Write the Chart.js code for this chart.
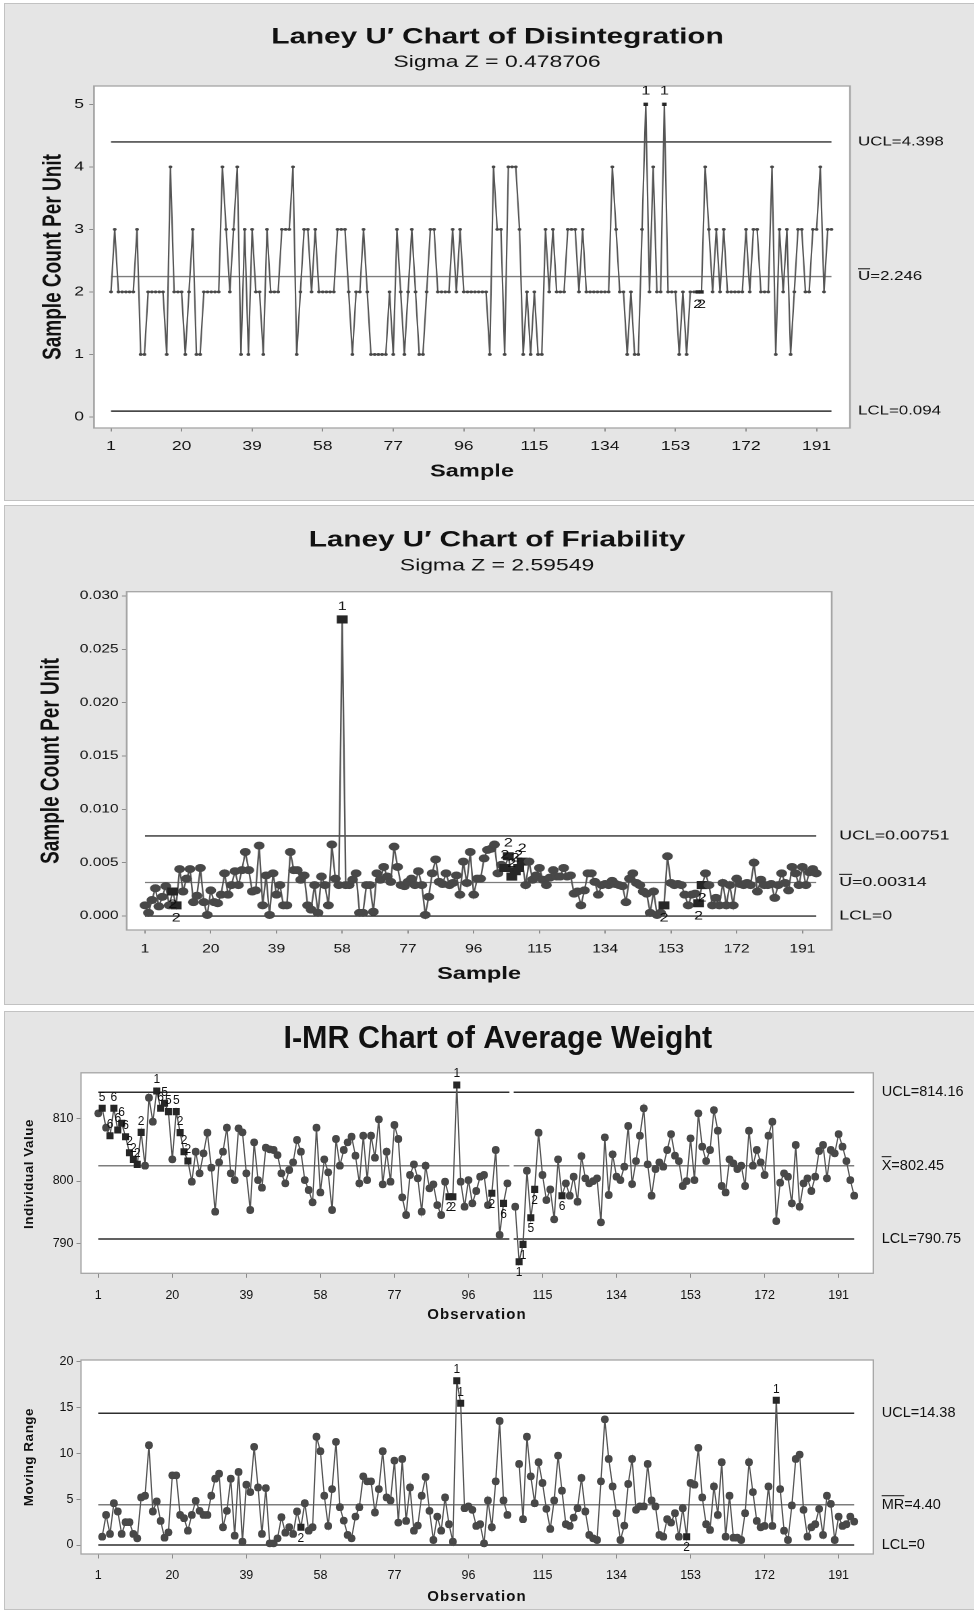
<!DOCTYPE html>
<html>
<head>
<meta charset="utf-8">
<title>Control charts</title>
<script src="https://cdn.jsdelivr.net/npm/chart.js@4.4.1/dist/chart.umd.min.js"></script>
<style>
  body { margin: 0; width: 974px; height: 1611px; position: relative; overflow: hidden; background: #fff; }
  .panel { position: absolute; left: 4px; width: 975px; background: #e5e5e5; border: 1px solid #c2c2c2; box-sizing: border-box; }
  .wrap { position: absolute; left: 0; }
  .stretch { transform-origin: 0 0; transform: scaleX(1.34903); }
</style>
</head>
<body>
<div class="panel" style="top:3px;height:498px"></div>
<div class="panel" style="top:505px;height:500px"></div>
<div class="panel" style="top:1011px;height:599px"></div>
<div class="wrap stretch" style="top:0;width:722px;height:502px"><canvas id="c1"></canvas></div>
<div class="wrap stretch" style="top:505px;width:722px;height:500px"><canvas id="c2"></canvas></div>
<div class="wrap" style="top:1011px;width:974px;height:319px"><canvas id="c3"></canvas></div>
<div class="wrap" style="top:1330px;width:974px;height:280px"><canvas id="c4"></canvas></div>

<script>
const FONT = '"Liberation Sans", Arial, Helvetica, sans-serif';
const S = 974 / 722; // the two Laney panels are drawn narrow and stretched

// ---- data ----
const sampleTicks = [1, 20, 39, 58, 77, 96, 115, 134, 153, 172, 191];

const disintegration = [
  2,3,2,2,2,2,2,3,1,1, 2,2,2,2,2,1,4,2,2,2, 1,2,3,1,1,2,2,2,2,2,
  4,3,2,3,4,1,3,1,3,2, 2,1,3,2,2,2,3,3,3,4, 1,2,3,3,2,3,2,2,2,2,
  2,3,3,3,2,1,2,2,3,2, 1,1,1,1,1,2,1,3,2,1, 2,3,2,1,1,2,3,3,2,2,
  2,2,3,2,3,2,2,2,2,2, 2,2,1,4,3,3,1,4,4,4, 3,1,2,1,2,1,1,3,2,3,
  2,2,2,3,3,3,2,3,2,2, 2,2,2,2,2,4,3,2,2,1, 2,1,1,3,5,2,4,2,2,5,
  2,2,2,1,2,1,2,2,2,2, 4,3,2,3,2,3,2,2,2,2, 2,3,2,3,3,2,2,2,4,1,
  3,2,3,1,2,3,3,2,2,3, 3,4,2,3,3
];
const disLimits = [4.398, 2.246, 0.094];
const disLimitText = ['UCL=4.398', 'U=2.246', 'LCL=0.094'];
const disFlags = [[145, '1'], [150, '1'], [159, '2'], [160, '2']];
const disYTicks = [0, 1, 2, 3, 4, 5];

const friability = [
  0.0010,0.0003,0.0015,0.0026,0.0009,0.0018,0.0028,0.0010,0.0023,0.0010,
  0.0044,0.0023,0.0035,0.0044,0.0013,0.0019,0.0045,0.0013,0.0001,0.0024,
  0.0013,0.0012,0.0020,0.0040,0.0020,0.0029,0.0042,0.0029,0.0043,0.0060,
  0.0043,0.0023,0.0024,0.0066,0.0010,0.0038,0.0001,0.0040,0.0020,0.0029,
  0.0010,0.0010,0.0060,0.0043,0.0043,0.0034,0.0038,0.0010,0.0006,0.0029,
  0.0003,0.0037,0.0029,0.0010,0.0067,0.0035,0.0029,0.0278,0.0029,0.0029,
  0.0034,0.0040,0.0003,0.0003,0.0029,0.0029,0.0004,0.0040,0.0034,0.0046,
  0.0037,0.0032,0.0065,0.0046,0.0029,0.0028,0.0032,0.0035,0.0029,0.0042,
  0.0029,0.0001,0.0018,0.0040,0.0053,0.0032,0.0030,0.0040,0.0029,0.0031,
  0.0038,0.0020,0.0051,0.0031,0.0060,0.0020,0.0035,0.0035,0.0054,0.0062,
  0.0063,0.0067,0.0040,0.0048,0.0045,0.0056,0.0037,0.0042,0.0045,0.0051,
  0.0029,0.0051,0.0034,0.0038,0.0045,0.0034,0.0029,0.0036,0.0043,0.0037,
  0.0037,0.0045,0.0037,0.0038,0.0021,0.0023,0.0010,0.0024,0.0040,0.0040,
  0.0032,0.0020,0.0029,0.0030,0.0029,0.0033,0.0030,0.0029,0.0028,0.0013,
  0.0035,0.0040,0.0031,0.0029,0.0023,0.0021,0.0003,0.0023,0.0001,0.0003,
  0.0010,0.0056,0.0031,0.0029,0.0030,0.0029,0.0020,0.0010,0.0020,0.0021,
  0.0012,0.0029,0.0040,0.0029,0.0010,0.0017,0.0010,0.0031,0.0010,0.0029,
  0.0010,0.0035,0.0030,0.0029,0.0031,0.0029,0.0050,0.0023,0.0034,0.0029,
  0.0029,0.0030,0.0017,0.0029,0.0040,0.0031,0.0024,0.0046,0.0040,0.0029,
  0.0046,0.0029,0.0041,0.0044,0.0040
];
const friLimits = [0.00751, 0.00314, 0];
const friLimitText = ['UCL=0.00751', 'U=0.00314', 'LCL=0'];
const friFlags = [[9, '2'], [10, '2'], [58, '1'], [105, '2'], [106, '2'], [107, '2'], [108, '2'],
  [109, '2'], [110, '2'], [151, '2'], [161, '2'], [162, '2']];
const friYTicks = [0, 0.005, 0.010, 0.015, 0.020, 0.025, 0.030];

const avgWeight = [
  810.80,811.60,808.51,807.24,811.60,808.14,809.21,807.08,804.52,803.46,
  802.66,807.77,802.45,813.30,809.47,814.36,811.60,812.40,811.07,803.46,
  811.07,807.72,804.68,803.19,799.90,804.68,801.23,804.42,807.72,802.13,
  795.11,802.98,804.68,808.51,801.23,800.16,808.41,807.77,801.23,795.38,
  806.17,800.16,798.94,805.32,805.06,804.95,804.15,801.23,799.63,801.76,
  802.98,806.55,804.68,800.16,798.57,796.60,808.51,798.19,803.46,801.39,
  795.38,806.71,802.45,804.95,806.17,807.08,804.05,799.63,807.24,800.16,
  807.24,803.73,809.84,799.47,804.68,799.90,808.94,806.71,797.40,794.58,
  800.96,802.66,800.43,795.11,802.45,798.83,799.47,796.17,794.58,799.90,
  797.50,797.50,815.32,799.90,795.91,800.16,796.44,798.41,800.69,800.96,
  796.17,798.04,804.95,791.39,796.44,799.63,null,795.91,787.13,789.90,
  801.65,794.15,798.67,807.72,800.96,796.97,798.67,793.89,803.46,797.66,
  799.63,797.66,800.69,796.71,803.99,800.43,799.63,800.00,800.43,793.41,
  806.97,797.77,804.26,800.69,800.16,802.29,808.78,799.52,803.19,807.24,
  811.60,802.66,797.66,801.92,802.98,802.29,804.95,807.50,804.05,803.19,
  799.21,800.00,806.81,800.16,810.80,805.48,803.19,804.95,811.33,808.04,
  799.21,798.19,803.46,802.82,801.92,802.45,799.21,808.04,802.45,804.95,
  802.98,800.96,807.24,809.47,793.62,799.74,801.23,800.69,796.44,805.75,
  795.91,799.63,800.43,798.41,800.69,804.79,805.75,800.43,804.95,804.42,
  807.50,805.48,803.19,800.16,797.66
];
const wtLimits = [814.16, 802.45, 790.75];
const wtLimitText = ['UCL=814.16', 'X=802.45', 'LCL=790.75'];
const wtFlags = [[2, '5'], [4, '6'], [5, '6'], [6, '6'], [7, '6'], [8, '6'], [9, '2'], [10, '2'], [11, '2'],
  [12, '2'], [16, '1'], [17, '6'], [18, '5'], [19, '5'], [21, '5'], [22, '2'], [23, '2'], [24, '2'],
  [91, '2'], [92, '2'], [93, '1'], [102, '2'], [105, '6'], [109, '1'], [110, '1'], [112, '5'],
  [113, '2'], [120, '6']];
const wtYTicks = [790, 800, 810];

const movingRange = [
  null,0.91,3.29,1.21,4.57,3.66,1.21,2.49,2.49,1.21,
  0.73,5.20,5.38,10.90,3.66,4.76,2.63,0.80,1.39,7.61,
  7.61,3.29,2.93,1.57,3.29,4.83,3.73,3.29,3.29,5.38,
  7.24,7.79,1.94,3.73,7.24,1.02,7.98,0.37,6.59,5.78,
  10.72,6.29,1.21,6.22,0.18,0.18,0.73,3.04,1.35,1.94,
  1.21,3.66,1.94,4.57,1.57,1.94,11.82,10.25,5.38,2.09,
  6.11,11.27,4.13,2.67,1.10,0.73,3.11,4.13,7.50,6.95,
  6.95,3.55,6.11,10.25,5.20,4.87,9.22,2.45,9.40,2.63,
  6.29,1.57,2.12,5.38,7.43,3.73,0.55,3.11,1.57,5.20,
  2.27,0.37,17.93,15.48,4.02,4.21,3.84,2.09,2.27,0.18,
  4.87,1.94,6.95,13.54,4.87,3.29,null,null,8.85,2.82,
  11.82,7.50,4.57,9.04,6.77,3.95,1.76,4.87,9.77,5.93,
  2.27,2.09,3.00,4.02,7.32,3.66,1.10,0.73,0.55,6.95,
  13.72,9.40,6.40,3.48,0.55,2.12,6.66,9.40,3.84,4.21,
  4.21,8.85,4.87,4.21,1.10,0.91,2.82,2.45,3.48,0.91,
  4.02,0.91,6.77,6.59,10.61,5.20,2.27,1.65,6.40,3.29,
  9.04,0.91,5.38,0.80,0.80,0.55,3.48,9.04,5.78,2.63,
  1.94,2.09,6.40,2.09,15.81,6.11,1.57,0.55,4.32,9.40,
  9.88,3.84,0.91,1.94,2.27,3.95,1.10,5.38,4.50,0.55,
  3.11,2.09,2.27,3.11,2.56
];
const mrLimits = [14.38, 4.40, 0];
const mrLimitText = ['UCL=14.38', 'MR=4.40', 'LCL=0'];
const mrFlags = [[53, '2'], [93, '1'], [94, '1'], [152, '2'], [175, '1']];
const mrYTicks = [0, 5, 10, 15, 20];

// ---- drawing ----
const cfgs = {};

// white plot area, frame, limit labels, test numbers and titles
const minitabPlugin = {
  id: 'minitab',
  beforeDraw(chart) {
    const a = chart.chartArea, ctx = chart.ctx;
    ctx.save();
    ctx.fillStyle = '#ffffff';
    ctx.fillRect(a.left, a.top, a.right - a.left, a.bottom - a.top);
    ctx.restore();
  },
  afterDraw(chart) {
    const o = cfgs[chart.canvas.id];
    const a = chart.chartArea, ctx = chart.ctx;
    const xs = chart.scales.x, ys = chart.scales.y;
    ctx.save();
    ctx.strokeStyle = '#a5a5a5';
    ctx.lineWidth = 1.3;
    ctx.strokeRect(a.left, a.top, a.right - a.left, a.bottom - a.top);

    ctx.fillStyle = '#111';
    ctx.strokeStyle = '#111';
    ctx.textBaseline = 'middle';
    ctx.textAlign = 'left';
    ctx.font = o.limitFont + 'px ' + FONT;
    o.limitText.forEach((t, k) => {
      const x = a.right + o.limitGap / o.sx;
      const y = ys.getPixelForValue(o.limits[k]);
      ctx.fillText(t, x, y);
      const n = o.bars[k];
      if (n) {
        const w = ctx.measureText(t.slice(0, n)).width;
        const by = y - o.limitFont * 0.62;
        ctx.lineWidth = 1;
        ctx.beginPath();
        ctx.moveTo(x, by);
        ctx.lineTo(x + w, by);
        ctx.stroke();
      }
    });

    ctx.textAlign = 'center';
    ctx.font = o.flagFont + 'px ' + FONT;
    o.flags.forEach(f => {
      const v = o.values[f[0] - 1];
      const x = xs.getPixelForValue(f[0]);
      const y = ys.getPixelForValue(v);
      ctx.fillText(f[1], x, v >= o.limits[1] ? y - o.flagOff : y + o.flagOff);
    });

    o.texts.forEach(t => {
      ctx.save();
      ctx.font = (t.bold ? 'bold ' : '') + t.size + 'px ' + FONT;
      ctx.letterSpacing = (t.ls || 0) + 'px';
      ctx.translate(t.x / o.sx, t.y);
      if (t.rot) ctx.rotate(-Math.PI / 2);
      ctx.fillText(t.t, 0, 0);
      ctx.restore();
    });
    ctx.restore();
  }
};

function controlChart(id, o) {
  cfgs[id] = o;
  const W = 974 / o.sx;
  const flagOf = {};
  o.flags.forEach(f => { flagOf[f[0]] = f[1]; });
  const pts = o.values.map((v, i) => ({ x: i + 1, y: v }));
  const flagged = pts.map(p => flagOf[p.x] !== undefined);

  // limit lines, broken where an observation is missing
  const limitData = v => {
    const out = [];
    o.spans.forEach((s, k) => {
      if (k > 0) out.push({ x: (o.spans[k - 1][1] + s[0]) / 2, y: null });
      out.push({ x: s[0], y: v }, { x: s[1], y: v });
    });
    return out;
  };
  const limitSets = o.limits.map((v, k) => ({
    data: limitData(v),
    pointRadius: 0,
    borderColor: k === 1 ? '#7d7d7d' : '#2e2e2e',
    borderWidth: k === 1 ? o.clWidth : o.limWidth,
    tension: 0,
    spanGaps: false
  }));

  const tickGrid = { drawOnChartArea: false, drawTicks: true, tickLength: o.tickLen, tickColor: '#8c8c8c', tickWidth: 1 };

  new Chart(document.getElementById(id), {
    type: 'line',
    data: {
      datasets: [{
        data: pts,
        borderColor: '#555555',
        borderWidth: o.lineWidth,
        tension: 0,
        spanGaps: false,
        pointStyle: flagged.map(f => f ? 'rect' : 'circle'),
        pointRadius: flagged.map(f => f ? o.sqR : o.dotR),
        pointBackgroundColor: flagged.map(f => f ? '#262626' : '#484848'),
        pointBorderWidth: 0
      }].concat(limitSets)
    },
    options: {
      responsive: true,
      maintainAspectRatio: false,
      animation: false,
      events: [],
      devicePixelRatio: o.sx > 1 ? 2 : 1,
      layout: { autoPadding: false, padding: { left: 0, top: o.top, right: W - o.right / o.sx, bottom: 0 } },
      scales: {
        x: {
          type: 'linear',
          min: o.xMin,
          max: o.xMax,
          afterBuildTicks: ax => { ax.ticks = sampleTicks.map(v => ({ value: v })); },
          afterFit: ax => { ax.height = o.xAxisH; },
          grid: tickGrid,
          border: { display: false },
          ticks: { color: '#111', font: { family: FONT, size: o.tickFont }, padding: o.xPad, maxRotation: 0, autoSkip: false, callback: v => String(v) }
        },
        y: {
          type: 'linear',
          min: o.yMin,
          max: o.yMax,
          afterBuildTicks: ax => { ax.ticks = o.yTicks.map(v => ({ value: v })); },
          afterFit: ax => { ax.width = o.left / o.sx; },
          grid: tickGrid,
          border: { display: false },
          ticks: { color: '#111', font: { family: FONT, size: o.tickFont }, padding: o.yPad, autoSkip: false, callback: v => o.yDigits ? v.toFixed(o.yDigits) : String(v) }
        }
      },
      plugins: { legend: { display: false }, tooltip: { enabled: false } }
    },
    plugins: [minitabPlugin]
  });
}

controlChart('c1', {
  sx: S, values: disintegration, flags: disFlags, limits: disLimits, limitText: disLimitText, bars: [0, 1, 0],
  spans: [[1, 195]], yTicks: disYTicks, yDigits: 0,
  xMin: -3.58, xMax: 200, yMin: -0.176, yMax: 5.293,
  top: 86, left: 94, right: 850, xAxisH: 74,
  tickFont: 13, tickLen: 3.5, xPad: 7, yPad: 4,
  dotR: 1.4, sqR: 2.4, lineWidth: 1.1, limWidth: 1.4, clWidth: 1.3,
  limitFont: 12.5, limitGap: 8, flagFont: 12, flagOff: 13,
  texts: [
    { t: 'Laney U\u2032 Chart of Disintegration', x: 497.5, y: 37.5, size: 22, bold: true },
    { t: 'Sigma Z = 0.478706', x: 497, y: 62.5, size: 17 },
    { t: 'Sample', x: 472, y: 471.5, size: 17.5, bold: true },
    { t: 'Sample Count Per Unit', x: 53.5, y: 257, size: 19, bold: true, rot: true }
  ]
});

controlChart('c2', {
  sx: S, values: friability, flags: friFlags, limits: friLimits, limitText: friLimitText, bars: [0, 1, 0],
  spans: [[1, 195]], yTicks: friYTicks, yDigits: 3,
  xMin: -4.29, xMax: 199.47, yMin: -0.00131, yMax: 0.0304,
  top: 86.7, left: 126.7, right: 831.7, xAxisH: 75,
  tickFont: 11.5, tickLen: 3.5, xPad: 9, yPad: 2.5,
  dotR: 4, sqR: 5.7, lineWidth: 1.2, limWidth: 1.4, clWidth: 1.3,
  limitFont: 13.2, limitGap: 7.5, flagFont: 12, flagOff: 13,
  texts: [
    { t: 'Laney U\u2032 Chart of Friability', x: 497, y: 35.4, size: 22, bold: true },
    { t: 'Sigma Z = 2.59549', x: 497, y: 61, size: 17 },
    { t: 'Sample', x: 479, y: 469, size: 17.5, bold: true },
    { t: 'Sample Count Per Unit', x: 51.4, y: 256, size: 19, bold: true, rot: true }
  ]
});

controlChart('c3', {
  sx: 1, values: avgWeight, flags: wtFlags, limits: wtLimits, limitText: wtLimitText, bars: [0, 1, 0],
  spans: [[1, 106.5], [107.6, 195]], yTicks: wtYTicks, yDigits: 0,
  xMin: -3.44, xMax: 199.9, yMin: 785.28, yMax: 817.27,
  top: 61.8, left: 81, right: 873.3, xAxisH: 56.7,
  tickFont: 12.5, tickLen: 4.5, xPad: 10, yPad: 3,
  dotR: 3.9, sqR: 5, lineWidth: 1.3, limWidth: 1.5, clWidth: 1.5,
  limitFont: 14.5, limitGap: 8.4, flagFont: 12, flagOff: 11,
  texts: [
    { t: 'I-MR Chart of Average Weight', x: 497.8, y: 28.5, size: 30.5, bold: true },
    { t: 'Individual Value', x: 28.8, y: 163, size: 13.5, bold: true, rot: true, ls: 0.5 },
    { t: 'Observation', x: 477, y: 304, size: 15, bold: true, ls: 1.1 }
  ]
});

controlChart('c4', {
  sx: 1, values: movingRange, flags: mrFlags, limits: mrLimits, limitText: mrLimitText, bars: [0, 2, 0],
  spans: [[1, 195]], yTicks: mrYTicks, yDigits: 0,
  xMin: -3.44, xMax: 199.9, yMin: -0.98, yMax: 20.2,
  top: 30, left: 81, right: 873.3, xAxisH: 56,
  tickFont: 12.5, tickLen: 4.5, xPad: 10, yPad: 3,
  dotR: 3.9, sqR: 5, lineWidth: 1.3, limWidth: 1.5, clWidth: 1.5,
  limitFont: 14.5, limitGap: 8.4, flagFont: 12, flagOff: 11,
  texts: [
    { t: 'Moving Range', x: 28.8, y: 127, size: 13.5, bold: true, rot: true, ls: 0.5 },
    { t: 'Observation', x: 477, y: 266.7, size: 15, bold: true, ls: 1.1 }
  ]
});
</script>
</body>
</html>
